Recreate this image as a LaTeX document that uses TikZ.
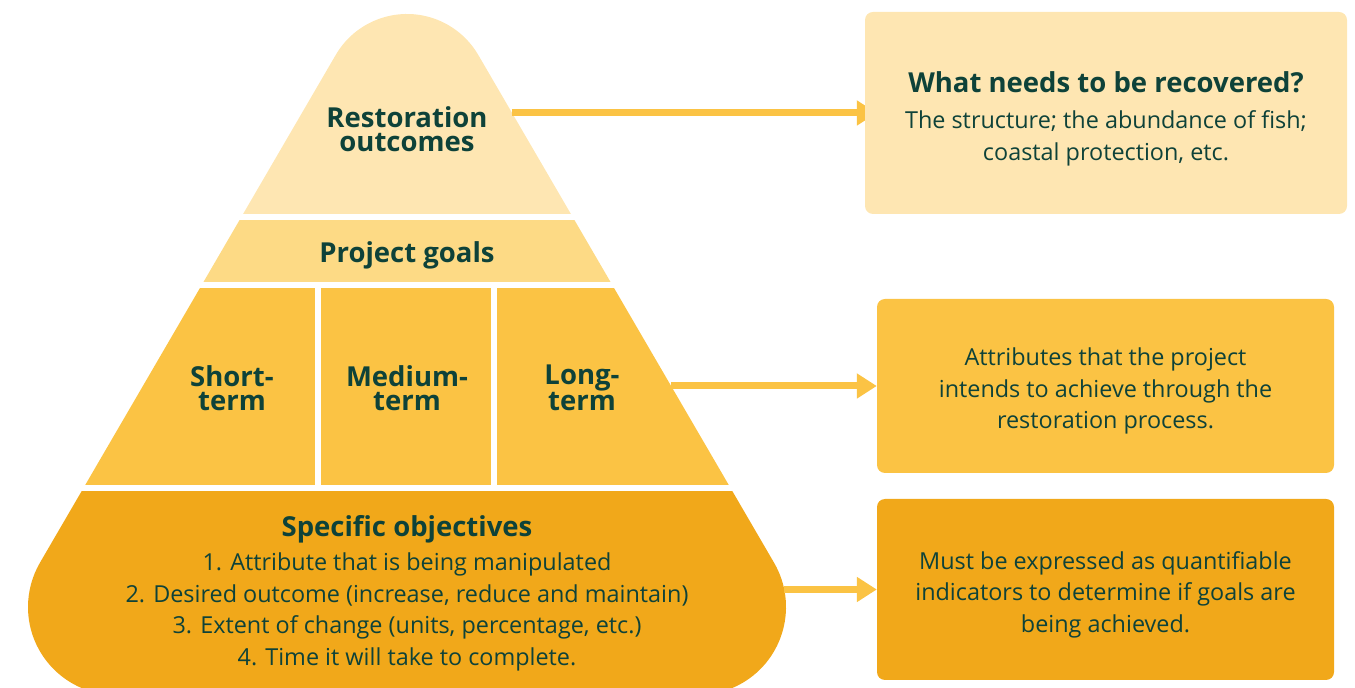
\documentclass[tikz,border=0pt]{standalone}
\usepackage{fontspec}
\setmainfont{Open Sans}
\usetikzlibrary{arrows.meta}
\definecolor{ink}{HTML}{0E4239}
\definecolor{pale}{HTML}{FEE6B2}
\definecolor{sand}{HTML}{FDDA85}
\definecolor{amber}{HTML}{FBC344}
\definecolor{ochre}{HTML}{F1A81A}
\tikzset{
  layer/.style={text=ink, align=center, inner sep=0pt, font=\bfseries\fontsize{27.5}{24}\selectfont},
  bodytext/.style={text=ink, align=center, inner sep=0pt, font=\fontsize{23.4}{31.5}\selectfont},
  infobox/.style={rounded corners=8pt, minimum width=457pt, inner sep=0pt},
  arr/.style={amber, line width=7pt, -{Triangle[length=20pt,width=24pt]}}
}

\begin{document}
\begin{tikzpicture}[x=1pt,y=1pt]
\useasboundingbox (0,0) rectangle (1355,688);

\begin{scope}
\clip (39.79,125) -- (335.55,632.75) arc[start angle=150,end angle=30,radius=82.5]
  -- (774.21,125) arc[start angle=30,end angle=-90,radius=88]
  -- (116,-7) arc[start angle=270,end angle=150,radius=88] -- cycle;
\fill[pale] (0,474) rectangle (820,700);
\fill[sand] (0,406) rectangle (820,468);
\fill[amber] (0,203) rectangle (315,400);
\fill[amber] (321,203) rectangle (491,400);
\fill[amber] (497,203) rectangle (820,400);
\fill[ochre] (0,-10) rectangle (820,197);
\end{scope}

\node[layer] (outcomes) at (407,559) {Restoration\\outcomes};
\node[layer] (goals) at (407,433) {Project goals};
\node[layer] (short) at (232,300) {Short-\\term};
\node[layer] (medium) at (407,300) {Medium-\\term};
\node[layer] (long) at (582,300) {Long-\\term};
\node[layer] (objectives) at (407,159) {Specific objectives};
\node[bodytext] (steps) at (407,76)
  {1. Attribute that is being manipulated\\
   2. Desired outcome (increase, reduce and maintain)\\
   3. Extent of change (units, percentage, etc.)\\
   4. Time it will take to complete.};

\node[infobox, fill=amber, minimum height=174pt] (attrib) at (1105.5,302) {};
\node[bodytext] (attribtxt) at ([yshift=-5pt]attrib.center)
  {Attributes that the project\\intends to achieve through the\\restoration process.};
\node[infobox, fill=ochre, minimum height=181pt] (measure) at (1105.5,98.5) {};
\node[bodytext] (measuretxt) at ([yshift=-5pt]measure.center)
  {Must be expressed as quantifiable\\indicators to determine if goals are\\being achieved.};

\coordinate (e1) at (512,575);
\coordinate (e2) at (671,302);
\coordinate (e3) at (784,98.5);
\draw[arr] (e1) -- (e1 -| attrib.west);
\draw[arr] (e2) -- (e2 -| attrib.west);
\draw[arr] (e3) -- (e3 -| measure.west);

\node[infobox, fill=pale, minimum width=482pt, minimum height=202pt] (recover) at (1106,575) {};
\node[bodytext, font=\fontsize{23.4}{32}\selectfont] (recovertxt) at ([yshift=-6pt]recover.center)
  {{\bfseries\fontsize{27.5}{32}\selectfont What needs to be recovered?}\\[4pt]
   The structure; the abundance of fish;\\coastal protection, etc.};
\end{tikzpicture}
\end{document}
